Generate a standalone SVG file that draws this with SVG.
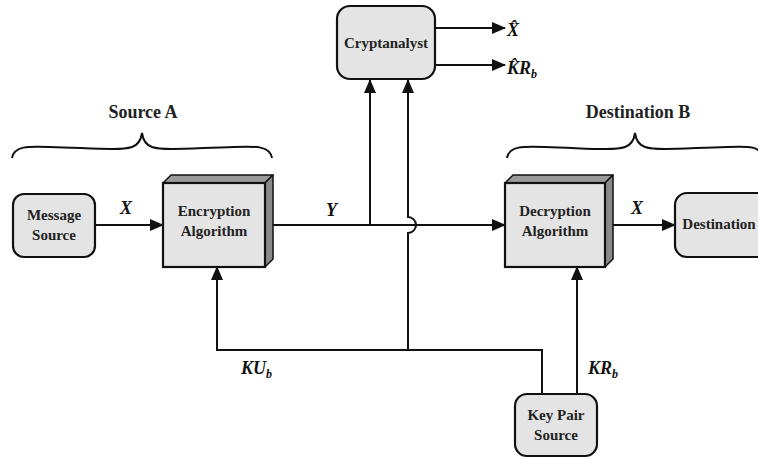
<svg xmlns="http://www.w3.org/2000/svg" width="758" height="458" viewBox="0 0 758 458">
<defs>
<marker id="arr" markerUnits="userSpaceOnUse" markerWidth="14" markerHeight="12" refX="13" refY="6" orient="auto">
<path d="M0,0 L14,6 L0,12 z" fill="#111"/>
</marker>
<style>
.box{fill:#e4e4e4;stroke:#111;stroke-width:2.2}
.side{fill:#8a8a8a;stroke:#111;stroke-width:1.5;stroke-linejoin:round}
.top{fill:#9a9a9a;stroke:#111;stroke-width:1.5;stroke-linejoin:round}
.nt{font-family:"Liberation Serif",serif;font-weight:bold;font-size:15px;fill:#222;text-anchor:middle}
.lb{font-family:"Liberation Serif",serif;font-weight:bold;font-size:18px;fill:#222;text-anchor:middle}
.var{font-family:"Liberation Serif",serif;font-weight:bold;font-style:italic;font-size:18px;fill:#111}
.ln{fill:none;stroke:#111;stroke-width:2}
.br{fill:none;stroke:#111;stroke-width:2}
</style>
</defs>
<rect width="758" height="458" fill="#fff"/>

<g id="connectors">
<path class="ln" d="M95,225 H163" marker-end="url(#arr)"/>
<path class="ln" d="M273,225 H505" marker-end="url(#arr)"/>
<path class="ln" d="M370,225 V80" marker-end="url(#arr)"/>
<path class="ln" d="M408,350 V233 A8,8 0 0 0 408,217 V80" marker-end="url(#arr)"/>
<path class="ln" d="M435,28 H505" marker-end="url(#arr)"/>
<path class="ln" d="M435,65 H505" marker-end="url(#arr)"/>
<path class="ln" d="M613,225 H675" marker-end="url(#arr)"/>
<path class="ln" d="M542,394 V350 H217 V267" marker-end="url(#arr)"/>
<path class="ln" d="M577,394 V267" marker-end="url(#arr)"/>
</g>

<g id="braces">
<path class="br" d="M12,158 C14,146 28,146 50,147 C90,148 120,151 132,147 C138,145 141,140 142,133 C143,140 146,145 152,147 C164,151 194,148 234,147 C256,146 270,146 272,158"/>
<path class="br" d="M507,158 C509,146 523,146 545,147 C585,148 613,151 625,147 C631,145 634,140 635,133 C636,140 639,145 645,147 C657,151 687,148 727,147 C749,146 761,146 763,158"/>
<text class="lb" x="143" y="118">Source A</text>
<text class="lb" x="638" y="118">Destination B</text>
</g>

<g id="message-source">
<rect class="box" x="13" y="194" width="82" height="63" rx="11"/>
<text class="nt" x="54" y="220">Message</text>
<text class="nt" x="54" y="240">Source</text>
</g>

<g id="encryption">
<polygon class="top" points="163,183 171,175 273,175 265,183"/>
<polygon class="side" points="265,183 273,175 273,259 265,267"/>
<rect class="box" x="163" y="183" width="102" height="84"/>
<text class="nt" x="214" y="216">Encryption</text>
<text class="nt" x="214" y="236">Algorithm</text>
</g>

<g id="cryptanalyst">
<rect class="box" x="337" y="6" width="98" height="73" rx="13"/>
<text class="nt" x="386" y="48">Cryptanalyst</text>
</g>

<g id="decryption">
<polygon class="top" points="505,183 513,175 613,175 605,183"/>
<polygon class="side" points="605,183 613,175 613,259 605,267"/>
<rect class="box" x="505" y="183" width="100" height="84"/>
<text class="nt" x="555" y="216">Decryption</text>
<text class="nt" x="555" y="236">Algorithm</text>
</g>

<g id="destination">
<rect class="box" x="675" y="193" width="100" height="64" rx="12"/>
<text class="nt" x="719" y="229">Destination</text>
</g>

<g id="key-pair-source">
<rect class="box" x="515" y="394" width="82" height="62" rx="12"/>
<text class="nt" x="556" y="420">Key Pair</text>
<text class="nt" x="556" y="440">Source</text>
</g>

<g id="labels">
<text class="var" x="120" y="214">X</text>
<text class="var" x="326" y="216">Y</text>
<text class="var" x="631" y="214">X</text>
<text class="var" x="507" y="36">X&#x302;</text>
<text class="var" x="507" y="74">K&#x302;R<tspan font-size="12" dy="4">b</tspan></text>
<text class="var" x="241" y="374">KU<tspan font-size="12" dy="4">b</tspan></text>
<text class="var" x="588" y="374">KR<tspan font-size="12" dy="4">b</tspan></text>
</g>
</svg>
